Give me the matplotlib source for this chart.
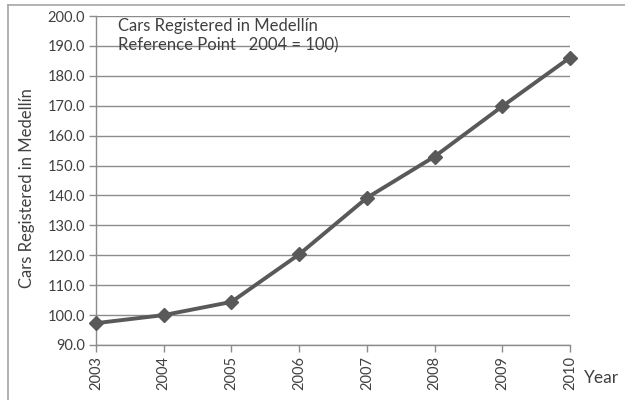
import matplotlib
matplotlib.use("Agg")
import matplotlib.pyplot as plt
from matplotlib.lines import Line2D

years = ["2003", "2004", "2005", "2006", "2007", "2008", "2009", "2010"]
index_values = [97.3, 100.0, 104.4, 120.3, 139.2, 153.0, 169.8, 186.1]
y_ticks = [90, 100, 110, 120, 130, 140, 150, 160, 170, 180, 190, 200]

plt.rcParams['font.family'] = ['Lato', 'DejaVu Sans']
text_color = "#404040"
grid_color = "#8c8c8c"
line_color = "#595959"

fig = plt.figure(figsize=(6.25, 4.0), dpi=100)
ax = fig.add_axes([96 / 625, 1 - 345 / 400, (570 - 96) / 625, (345 - 16) / 400])

x = list(range(len(years)))
ax.plot(x, index_values, color=line_color, linewidth=2.8, marker="D",
        markersize=7, markerfacecolor=line_color, markeredgecolor=line_color,
        clip_on=False, zorder=3)

ax.set_xlim(0, len(years) - 1)
ax.set_ylim(90, 200)
ax.set_yticks(y_ticks)
ax.set_yticklabels([f"{v:.1f}" for v in y_ticks])
ax.set_xticks(x)
ax.set_xticklabels(years, rotation=90)

ax.yaxis.grid(True, color=grid_color, linewidth=1.0)
ax.set_axisbelow(True)
for side in ("top", "right"):
    ax.spines[side].set_visible(False)
for side in ("left", "bottom"):
    ax.spines[side].set_color(grid_color)
    ax.spines[side].set_linewidth(1.0)

ax.tick_params(axis="both", colors=grid_color, labelcolor=text_color,
               labelsize=10.5, length=5, width=1.0, direction="out")
ax.tick_params(axis="x", pad=3)
ax.tick_params(axis="y", pad=3)

ax.set_ylabel("Cars Registered in Medellín", fontsize=12, color=text_color)
ax.yaxis.set_label_coords(-0.128, 0.477)
fig.text(584 / 625, 1 - 378 / 400, "Year", fontsize=12.5, color=text_color,
         ha="left", va="center")

ax.text(0.046, 0.995, "Cars Registered in Medellín\nReference Point   2004 = 100)",
        transform=ax.transAxes, fontsize=12, color=text_color,
        ha="left", va="top", linespacing=1.3)

# outer chart frame
fig.add_artist(Line2D([8 / 625, 8 / 625], [0, 1 - 5 / 400], transform=fig.transFigure,
                      color="#a6a6a6", linewidth=1.2))
fig.add_artist(Line2D([8 / 625, 1], [1 - 5 / 400, 1 - 5 / 400], transform=fig.transFigure,
                      color="#a6a6a6", linewidth=1.2))

fig.savefig("out.png", dpi=100)
